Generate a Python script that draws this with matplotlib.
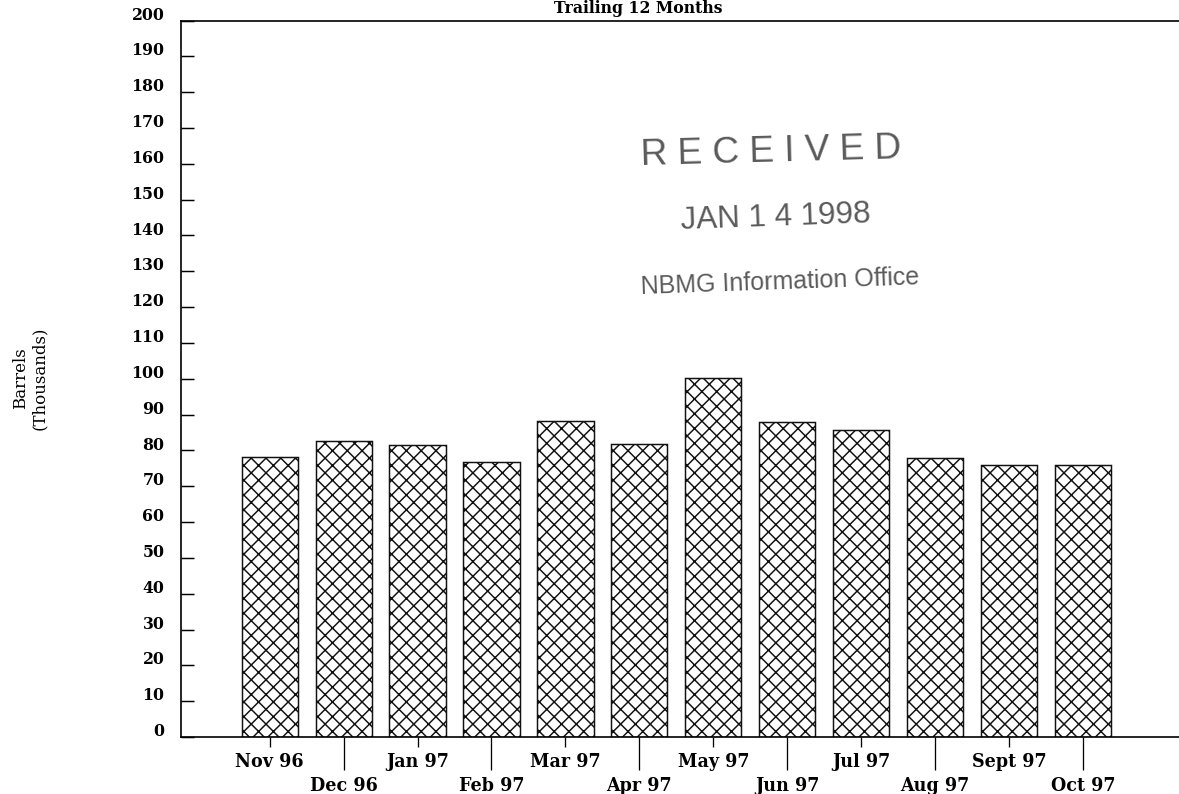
import matplotlib
matplotlib.use("Agg")
import matplotlib.pyplot as plt
from matplotlib.transforms import ScaledTranslation
import numpy as np

### Donnees (milliers de barils)
months = ['Nov 96', 'Dec 96', 'Jan 97', 'Feb 97', 'Mar 97', 'Apr 97',
          'May 97', 'Jun 97', 'Jul 97', 'Aug 97', 'Sept 97', 'Oct 97']
barrels = [78.2, 82.6, 81.4, 76.8, 88.2, 81.7, 100.3, 87.9, 85.6, 78.0, 75.9, 75.9]
yticks = list(range(0, 201, 10))

TITLE = 'Trailing 12 Months'
YLABEL = 'Barrels\n(Thousands)'
STAMP = ['R E C E I V E D', 'JAN 1 4 1998', 'NBMG Information Office']

### Figure
DPI = 133
fig = plt.figure(figsize=(1179 / DPI, 794 / DPI), dpi=DPI)
ax = fig.add_axes([181 / 1179, 1 - 737 / 794, 1 - 181 / 1179, (737 - 20.5) / 794])

plt.rcParams['hatch.linewidth'] = 0.8
plt.rcParams['hatch.color'] = '#222222'
x = np.arange(len(months))
ax.bar(x, barrels, width=0.76, color='white', edgecolor='#111111',
       linewidth=0.8, hatch='xxx')

ax.set_xlim(-1.2, 12.3)
ax.set_ylim(0, 200)
ax.spines['right'].set_visible(False)
for s in ['left', 'top', 'bottom']:
    ax.spines[s].set_linewidth(0.9)

# y ticks vers l'interieur, etiquettes legerement au-dessus
ax.set_yticks(yticks)
ax.set_yticklabels([str(v) for v in yticks], family='DejaVu Serif', fontsize=8.5,
                   fontweight='bold')
ax.tick_params(axis='y', direction='in', length=7, width=0.8, pad=9)
for lab in ax.get_yticklabels():
    lab.set_transform(lab.get_transform() + ScaledTranslation(0, 4 / 72, fig.dpi_scale_trans))

# x ticks alternes : courts / longs
ax.set_xticks(x[0::2])
ax.set_xticklabels(months[0::2], family='DejaVu Serif', fontsize=9.5, fontweight='bold')
ax.set_xticks(x[1::2], minor=True)
ax.set_xticklabels(months[1::2], minor=True, family='DejaVu Serif', fontsize=9.5,
                   fontweight='bold')
ax.tick_params(axis='x', which='major', direction='out', length=5.4, width=0.7, pad=3)
ax.tick_params(axis='x', which='minor', direction='out', length=17.9, width=0.7, pad=3.5)

# textes
fig.text(638 / 1179, 1.0, TITLE, ha='center', va='top',
         family='DejaVu Serif', fontsize=8.5, fontweight='bold')
fig.text(30 / 1179, 1 - 378 / 794, YLABEL, rotation=90, ha='center', va='center',
         multialignment='center', family='DejaVu Serif', fontsize=9)

# tampon
stamp_color = '#5a5a5a'
fig.text(771 / 1179, 1 - 152 / 794, STAMP[0], ha='center', va='center',
         family='Liberation Sans', fontsize=20, color=stamp_color, rotation=1.5)
fig.text(776 / 1179, 1 - 218 / 794, STAMP[1], ha='center', va='center',
         family='Liberation Sans', fontsize=17, color=stamp_color, rotation=2)
fig.text(780 / 1179, 1 - 282 / 794, STAMP[2], ha='center', va='center',
         family='Liberation Sans', fontsize=13.5, color=stamp_color, rotation=2)

fig.savefig('out.png', dpi=DPI)
